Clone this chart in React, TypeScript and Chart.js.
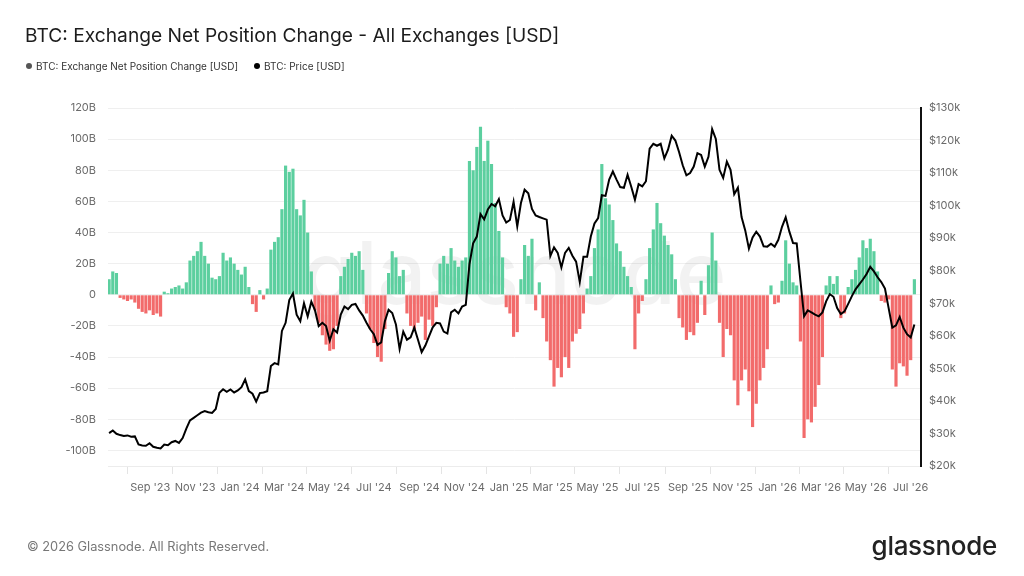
import React, { useEffect, useRef } from "react";
import { Chart, registerables } from "chart.js";

Chart.register(...registerables);

// First sample date of both series; one sample every five days.
const SERIES_START = Date.UTC(2023, 6, 7);
const DAYS_PER_SAMPLE = 5;

// Exchange net position change, billions of USD.
const netPositionChangeB = [
  10, 15, 14, -2, -3, -4, -3, -5, -9, -11,
  -12, -10, -13, -12, -14, 2, 1, 4, 5, 6,
  4, 8, 22, 25, 28, 34, 25, 20, 11, 10,
  12, 27, 22, 24, 20, 16, 13, 18, 5, -6,
  -11, 3, -3, 4, 29, 34, 37, 55, 83, 79,
  81, 55, 51, 61, 40, 15, -10, -18, -26, -32,
  -36, -35, -20, 12, 18, 23, 27, 25, 28, 16,
  -12, -22, -31, -40, -43, -22, 14, 28, 24, 12,
  16, -12, -20, -22, -18, -14, -29, -16, -20, -8,
  20, 25, 20, 30, 22, 18, 22, 24, 86, 80,
  95, 108, 86, 99, 84, 59, 41, 24, -8, -12,
  -27, -24, 10, 32, 25, 36, -10, 8, -15, -30,
  -42, -59, -47, -53, -40, -47, -30, -25, -22, -12,
  4, 12, 30, 42, 84, 62, 58, 48, 33, 28,
  18, 12, 5, -35, -12, -4, 10, 30, 42, 59,
  46, 38, 32, 26, 10, -15, -21, -29, -24, -26,
  -18, 9, -13, 19, 40, 22, -18, -40, -22, -26,
  -55, -71, -55, -48, -62, -85, -70, -55, -47, -35,
  6, -6, -5, 9, 35, 20, 8, 6, -30, -92,
  -80, -82, -72, -58, -40, 6, 12, 7, 12, -15,
  -12, 5, 10, 16, 24, 35, 30, 36, 28, 15,
  -4, -5, -3, -48, -59, -44, -46, -52, -42, 10,
];

// BTC price, thousands of USD.
const btcPriceK = [
  30.1, 30.9, 29.9, 29.5, 29.2, 29.4, 29.0, 29.1, 26.6, 26.3,
  26.2, 27.0, 25.9, 25.6, 25.4, 26.6, 26.4, 27.3, 27.7, 27.1,
  28.6, 31.5, 34.0, 34.8, 35.6, 36.4, 36.9, 36.5, 36.3, 37.5,
  42.5, 43.6, 42.8, 43.5, 42.6, 43.2, 44.2, 46.6, 43.0, 42.2,
  39.8, 42.4, 42.6, 43.0, 50.7, 51.6, 51.2, 61.5, 64.0, 71.0,
  73.0, 66.5, 64.5, 70.0, 66.0, 70.5, 67.8, 63.0, 64.0, 63.0,
  58.5, 62.0, 61.0, 66.5, 69.0, 68.2, 69.5, 69.8, 67.8, 66.2,
  64.0, 62.0, 60.5, 57.2, 58.0, 64.5, 68.0, 67.0, 63.5, 56.0,
  61.3, 58.8, 59.5, 62.5, 58.8, 55.0, 57.0, 59.8, 62.6, 64.0,
  63.8, 61.3, 60.7, 67.2, 68.0, 66.9, 69.0, 69.5, 82.0, 88.4,
  90.5, 97.4, 95.8, 98.8, 100.5, 99.8, 102.0, 97.0, 94.8, 95.6,
  101.2, 93.6, 100.8, 104.9, 103.8, 99.0, 97.0, 96.5, 96.1, 95.7,
  84.5, 87.2, 85.5, 81.0, 85.5, 87.0, 84.6, 82.8, 76.5, 84.3,
  84.3, 90.5, 94.5, 96.2, 103.2, 103.0, 108.0, 110.5, 108.0, 105.7,
  105.5, 109.5, 105.8, 101.8, 106.6, 105.9, 107.5, 117.5, 119.0, 118.4,
  119.0, 114.5, 117.2, 121.5, 120.0, 116.5, 112.4, 109.3, 110.0, 112.0,
  116.1, 115.6, 112.0, 115.0, 123.5, 120.5, 111.0, 108.5, 113.5, 111.0,
  103.5, 105.5, 96.5, 92.4, 86.8, 90.2, 92.0, 90.5, 87.5, 87.4,
  88.3, 87.4, 89.5, 93.5, 96.4, 92.0, 88.5, 88.4, 77.0, 66.0,
  67.8, 67.2, 66.5, 66.0, 67.2, 70.6, 72.8, 72.0, 68.5, 66.7,
  67.5, 69.8, 72.2, 74.3, 75.8, 77.3, 79.0, 81.2, 79.8, 78.0,
  76.5, 74.5, 68.5, 62.5, 63.2, 65.8, 62.5, 60.5, 59.5, 63.5,
];

// Month ticks along the time axis.
const monthTickDates = [
  "2023-09-01", "2023-11-01", "2024-01-01", "2024-03-01", "2024-05-01", "2024-07-01",
  "2024-09-01", "2024-11-01", "2025-01-01", "2025-03-01", "2025-05-01", "2025-07-01",
  "2025-09-01", "2025-11-01", "2026-01-01", "2026-03-01", "2026-05-01", "2026-07-01",
];
const monthTickLabels = [
  "Sep '23", "Nov '23", "Jan '24", "Mar '24", "May '24", "Jul '24",
  "Sep '24", "Nov '24", "Jan '25", "Mar '25", "May '25", "Jul '25",
  "Sep '25", "Nov '25", "Jan '26", "Mar '26", "May '26", "Jul '26",
];

const GREEN = "#5ccf9f";
const RED = "#f26b6b";
const TICK_COLOR = "#6b6b6b";
const FONT = "Inter, 'Noto Sans', sans-serif";

const dayOf = (iso: string) =>
  Math.round((Date.parse(iso + "T00:00:00Z") - SERIES_START) / 86400000);

const watermark = {
  id: "watermark",
  beforeDatasetsDraw(chart: any) {
    const { ctx, chartArea } = chart;
    ctx.save();
    ctx.font = `500 86px ${FONT}`;
    ctx.fillStyle = "rgba(0,0,0,0.05)";
    ctx.textAlign = "center";
    ctx.textBaseline = "alphabetic";
    ctx.fillText("glassnode", (chartArea.left + chartArea.right) / 2, chartArea.top + 196);
    ctx.restore();
  },
};

export default function App() {
  const canvasRef = useRef<HTMLCanvasElement | null>(null);

  useEffect(() => {
    const canvas = canvasRef.current;
    if (!canvas) return;
    const netPoints = netPositionChangeB.map((v, i) => ({ x: i * DAYS_PER_SAMPLE, y: v }));
    const pricePoints = btcPriceK.map((v, i) => ({ x: i * DAYS_PER_SAMPLE, y: v }));
    const tickDays = monthTickDates.map(dayOf);

    const chart = new Chart(canvas, {
      type: "bar",
      data: {
        datasets: [
          {
            type: "line",
            label: "BTC: Price [USD]",
            data: pricePoints,
            yAxisID: "price",
            borderColor: "#000000",
            borderWidth: 2,
            pointRadius: 0,
            tension: 0,
            order: 0,
          } as any,
          {
            type: "bar",
            label: "BTC: Exchange Net Position Change [USD]",
            data: netPoints,
            yAxisID: "net",
            backgroundColor: (c: any) => ((c.raw?.y ?? 0) >= 0 ? GREEN : RED),
            barPercentage: 0.86,
            categoryPercentage: 1,
            borderWidth: 0,
            order: 1,
          } as any,
        ],
      },
      options: {
        responsive: false,
        animation: false,
        devicePixelRatio: 1,
        layout: { padding: { top: 108, left: 0, right: 0, bottom: 0 } },
        plugins: { legend: { display: false }, tooltip: { enabled: false } },
        scales: {
          x: {
            type: "linear",
            min: -1.5,
            max: 1104,
            offset: false,
            grid: { display: true, drawOnChartArea: false, drawTicks: true, tickLength: 8, color: "#e4e4e4" },
            border: { display: true, color: "#ececec" },
            ticks: {
              autoSkip: false,
              maxRotation: 0,
              padding: 7,
              color: TICK_COLOR,
              font: { family: FONT, size: 11 },
              callback: (_v: any, i: number) => monthTickLabels[i],
            },
            afterBuildTicks: (scale: any) => {
              scale.ticks = tickDays.map((d) => ({ value: d }));
            },
            afterFit: (scale: any) => {
              scale.height = 110;
            },
          },
          net: {
            type: "linear",
            position: "left",
            min: -110,
            max: 120,
            grid: { color: "#efefef", drawTicks: false },
            border: { display: false },
            ticks: {
              stepSize: 20,
              includeBounds: false,
              padding: 12,
              color: TICK_COLOR,
              font: { family: FONT, size: 11 },
              callback: (v: any) => (v === 0 ? "0" : `${v}B`),
            },
            afterFit: (scale: any) => {
              scale.width = 108;
            },
          },
          price: {
            type: "linear",
            position: "right",
            min: 20,
            max: 130,
            grid: { display: false, drawTicks: false },
            border: { display: true, color: "#111111", width: 2 },
            ticks: {
              stepSize: 10,
              padding: 8,
              color: TICK_COLOR,
              font: { family: FONT, size: 11 },
              callback: (v: any) => `$${v}k`,
            },
            afterFit: (scale: any) => {
              scale.width = 103;
            },
          },
        },
      } as any,
      plugins: [watermark],
    });

    return () => chart.destroy();
  }, []);

  const dot = (color: string) => (
    <span
      style={{
        display: "inline-block",
        width: 6,
        height: 6,
        borderRadius: "50%",
        background: color,
        marginRight: 4,
        verticalAlign: "middle",
        position: "relative",
        top: -1,
      }}
    />
  );

  return (
    <div
      style={{
        position: "fixed",
        left: 0,
        top: 0,
        width: 1024,
        height: 576,
        background: "#ffffff",
        fontFamily: FONT,
        overflow: "hidden",
      }}
    >
      <canvas ref={canvasRef} width={1024} height={576} style={{ position: "absolute", left: 0, top: 0 }} />
      <div
        style={{
          position: "absolute",
          left: 25,
          top: 22,
          fontSize: 19.2,
          lineHeight: "26px",
          color: "#1c1c1c",
          whiteSpace: "nowrap",
        }}
      >
        BTC: Exchange Net Position Change - All Exchanges [USD]
      </div>
      <div
        style={{
          position: "absolute",
          left: 26,
          top: 58,
          fontSize: 10,
          lineHeight: "16px",
          color: "#333333",
          whiteSpace: "nowrap",
          display: "flex",
          gap: 16,
        }}
      >
        <span>
          {dot("#555555")}
          BTC: Exchange Net Position Change [USD]
        </span>
        <span>
          {dot("#000000")}
          BTC: Price [USD]
        </span>
      </div>
      <div
        style={{
          position: "absolute",
          left: 27,
          top: 537,
          fontSize: 12.8,
          lineHeight: "20px",
          color: "#777777",
          whiteSpace: "nowrap",
        }}
      >
        © 2026 Glassnode. All Rights Reserved.
      </div>
      <div
        style={{
          position: "absolute",
          right: 27,
          top: 529,
          fontSize: 26,
          lineHeight: "34px",
          fontWeight: 500,
          color: "#222222",
          letterSpacing: -0.3,
          whiteSpace: "nowrap",
        }}
      >
        glassnode
      </div>
    </div>
  );
}
